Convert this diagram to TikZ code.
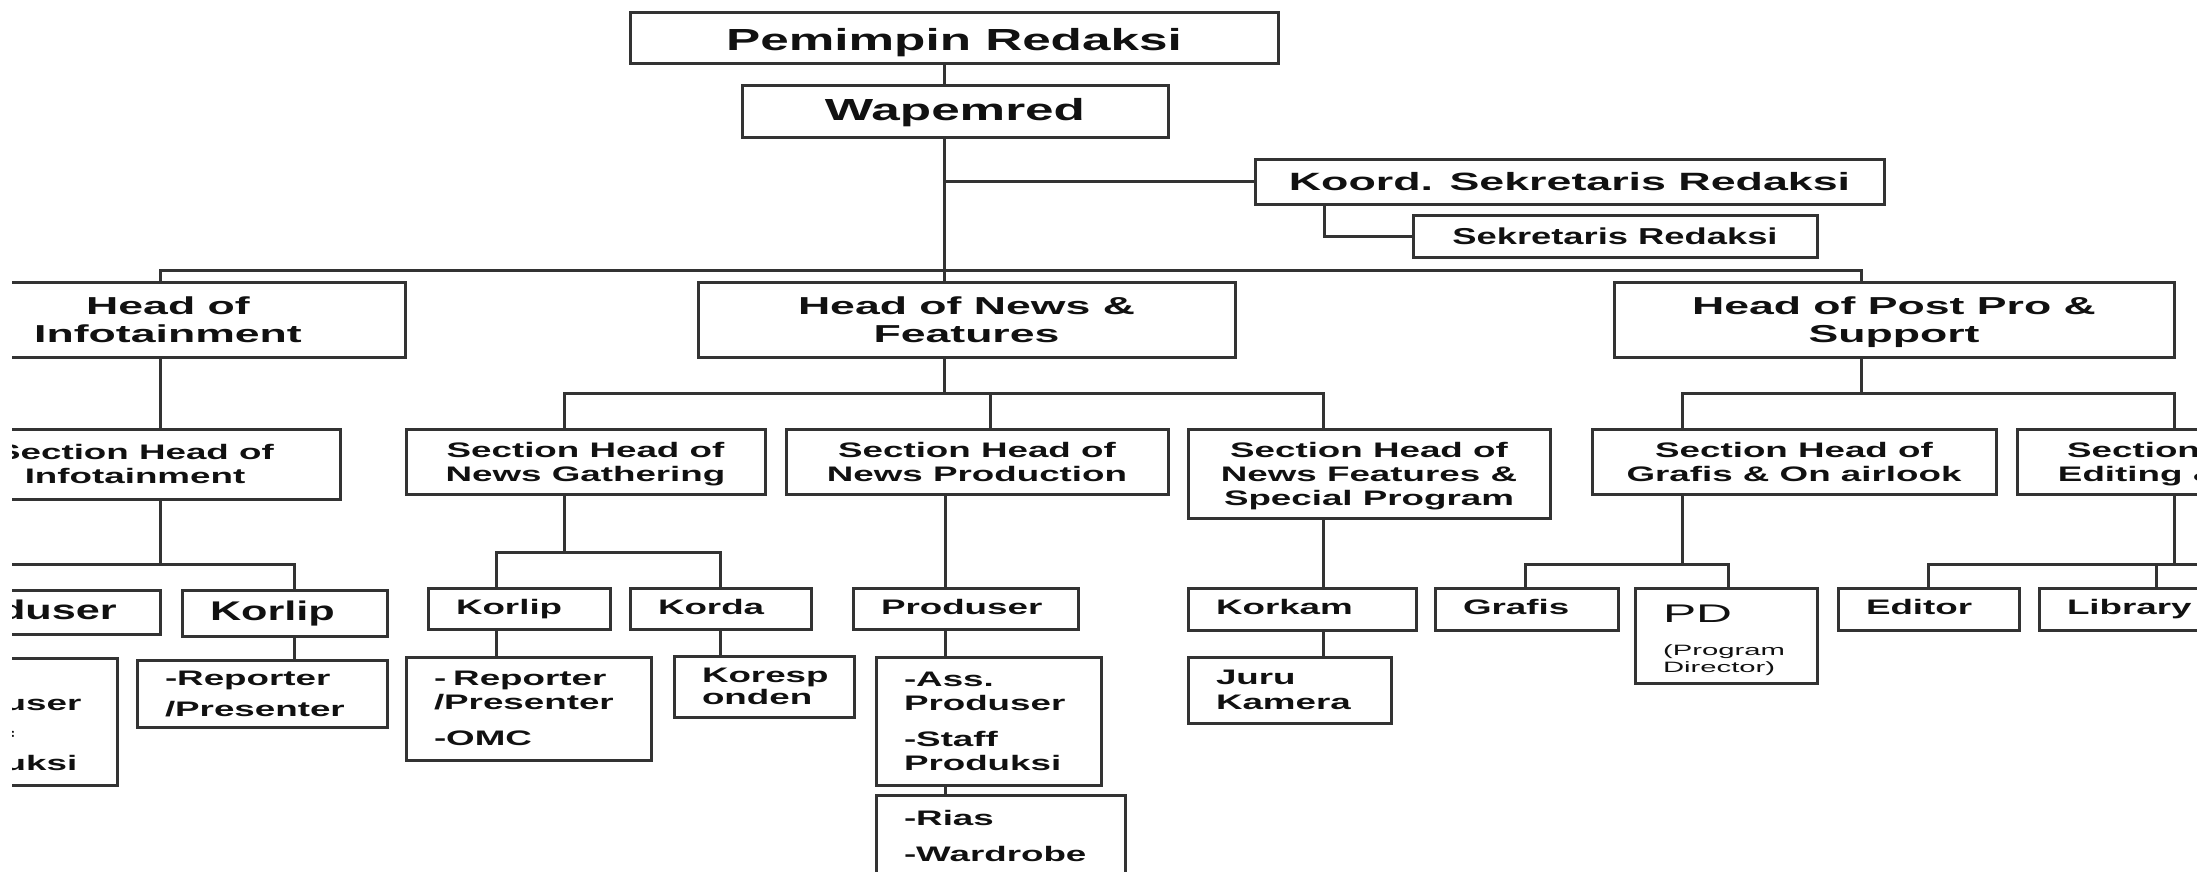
\documentclass[tikz,border=0pt]{standalone}
\usepackage{fontspec}
\newfontfamily\fTop{Liberation Sans}[UprightFont={* Bold},FakeStretch=1.68]
\newfontfamily\fHd{Liberation Sans}[UprightFont={* Bold},FakeStretch=1.82]
\newfontfamily\fReg{Liberation Sans}[FakeStretch=1.95]
\newfontfamily\fKo{Liberation Sans}[UprightFont={* Bold},FakeStretch=1.79]
\newfontfamily\fSek{Liberation Sans}[UprightFont={* Bold},FakeStretch=1.58]
\newfontfamily\fSec{Liberation Sans}[UprightFont={* Bold},FakeStretch=1.75]
\newfontfamily\fBig{Liberation Sans}[UprightFont={* Bold},FakeStretch=1.6]
\definecolor{lc}{HTML}{333333}
\definecolor{tc}{HTML}{111111}
\tikzset{
  boxx/.style={draw=lc, line width=3pt, inner sep=0pt, align=center, text=tc},
  itm/.style={boxx, inner xsep=28pt, inner ysep=0pt, align=left},
  one/.style={text height=15pt, text depth=4pt},
  onebig/.style={text height=19.5pt, text depth=5.5pt},
  ln/.style={draw=lc, line width=3pt},
  topf/.style={font=\fTop\fontsize{30.5}{34}\selectfont},
  hdf/.style={font=\fHd\fontsize{24.5}{28}\selectfont},
  secf/.style={font=\fSec\fontsize{21}{24}\selectfont},
  bigf/.style={font=\fBig\fontsize{27}{31}\selectfont},
}
% centred box: opts, name, x1, y1, x2, y2, text
\newcommand\BX[7][]{\node[boxx,#1,minimum width={((#5)-(#3))*1pt},minimum height={((#6)-(#4))*1pt}] (#2) at ({((#3)+(#5))/2},{((#4)+(#6))/2}) {#7};}
% left-aligned item box
\newcommand\IT[7][]{\node[itm,#1,text width={((#5)-(#3)-56)*1pt},minimum width={((#5)-(#3))*1pt},minimum height={((#6)-(#4))*1pt}] (#2) at ({((#3)+(#5))/2},{((#4)+(#6))/2}) {#7};}
\begin{document}
\begin{tikzpicture}[x=1pt,y=-1pt]
\useasboundingbox (0,0) rectangle (2197,871);
\clip (0,0) rectangle (2197,871);
\fill[white] (0,0) rectangle (2197,871);

% ---------- nodes ----------
\BX[topf,text height=25pt,text depth=0pt]{pem}{630}{12}{1278}{63}{Pemimpin Redaksi}
\BX[topf,text height=22pt,text depth=4pt]{wap}{742}{85}{1168}{137}{Wapemred}
\BX[font=\fKo\fontsize{25}{28}\selectfont]{koord}{1255}{159}{1884}{204}{Koord. Sekretaris Redaksi}
\BX[font=\fSek\fontsize{23}{26}\selectfont]{sek}{1413}{215}{1817}{257}{Sekretaris Redaksi}

\BX[hdf]{hinf}{-69}{282}{405}{357}{Head of\\Infotainment}
\BX[hdf]{hnf}{698}{282}{1235}{357}{Head of News \&\\Features}
\BX[hdf]{hpp}{1614}{282}{2174}{357}{Head of Post Pro \&\\Su\smash{pp}ort}

\BX[secf]{sinf}{-70}{429}{340}{499}{Section Head of\\Infotainment}
\BX[secf]{sng}{406}{429}{765}{494}{Section Head of\\News Gatherin\smash{g}}
\BX[secf]{snp}{786}{429}{1168}{494}{Section Head of\\News Production}
\BX[secf]{snf}{1188}{429}{1550}{518}{Section Head of\\News Features \&\\S\smash{p}ecial Pro\smash{g}ram}
\BX[secf]{sgr}{1592}{429}{1996}{494}{Section Head of\\Grafis \& On airlook}
\BX[secf]{sed}{2017}{429}{2395}{494}{Section Head of\\Editin\smash{g} \& Librar\smash{y}}

% infotainment column
\IT[bigf,onebig]{iprod}{-101}{590}{160}{634}{Produser}
\IT[bigf,onebig]{ikor}{182}{590}{387}{636}{Korlip}
\IT[secf]{ilist}{-108}{658}{117}{785}{-Ass.\\Produser\\[12pt]-Staff\\Produksi}
\IT[secf,inner xsep=26pt,font=\fSec\fontsize{21}{31}\selectfont]{irep}{137}{660}{387}{727}{-Reporter\\/Presenter}

% news gathering
\IT[secf,one]{nkor}{428}{588}{610}{629}{Korlip}
\IT[secf,one]{nkorda}{630}{588}{811}{629}{Korda}
\IT[secf]{nrep}{406}{657}{651}{760}{- Reporter\\/Presenter\\[12pt]-OMC}
\IT[secf,inner xsep=25pt,font=\fSec\fontsize{21}{22}\selectfont]{nkoresp}{674}{656}{854}{717}{Koresp\\onden}

% news production
\IT[secf,one]{nprod}{853}{588}{1078}{629}{Produser}
\IT[secf]{nass}{876}{657}{1101}{785}{-Ass.\\Produser\\[12pt]-Staff\\Produksi}
\IT[secf,font=\fSec\fontsize{21}{36}\selectfont]{nrias}{876}{795}{1125}{876}{-Rias\\-Wardrobe}

% news features
\IT[secf,one]{nkorkam}{1188}{588}{1416}{630}{Korkam}
\IT[secf,font=\fSec\fontsize{21}{25}\selectfont]{njuru}{1188}{657}{1391}{723}{Juru\\Kamera}

% post pro
\IT[secf,one]{grafis}{1435}{588}{1618}{630}{Grafis}
\IT[font=\fReg\fontsize{15}{17}\selectfont]{pd}{1635}{588}{1817}{683}{{\fontsize{25.5}{28}\selectfont\rule{0pt}{27pt}PD}\\[16pt](Program\\Director)}
\IT[secf,one]{editor}{1838}{588}{2019}{630}{Editor}
\IT[secf,one,inner xsep=27pt]{library}{2039}{588}{2220}{630}{Library}

% ---------- connector coordinates ----------
\coordinate (tx) at (944,0);
\coordinate (kx) at (1324,0);
\coordinate (ix) at (160,0);
\coordinate (px) at (1861,0);
\coordinate (b1) at (944,270);
\coordinate (b2) at (944,393);
\coordinate (gx) at (564,0);
\coordinate (npx) at (990,0);
\coordinate (nfx) at (1323,0);
\coordinate (b3) at (160,564);
\coordinate (ipx) at (-20,0);
\coordinate (ikx) at (294,0);
\coordinate (b4) at (564,552);
\coordinate (k1x) at (496,0);
\coordinate (k2x) at (720,0);
\coordinate (p2x) at (945,0);
\coordinate (b5) at (1861,393);
\coordinate (grx) at (1682,0);
\coordinate (edx) at (2174,0);
\coordinate (b6) at (1682,564);
\coordinate (gfx) at (1525,0);
\coordinate (pdx) at (1728,0);
\coordinate (b7) at (2174,564);
\coordinate (b7e) at (2260,564);
\coordinate (etx) at (1928,0);
\coordinate (lbx) at (2156,0);

% ---------- connectors ----------
\draw[ln] (pem.south -| tx) -- (wap.north -| tx);
\draw[ln] (wap.south -| tx) -- (hnf.north -| tx);
\draw[ln] (koord.west) -- (koord.west -| tx);
\draw[ln] (koord.south -| kx) |- (sek.west);
\draw[ln] (hinf.north -| ix) |- (b1) -| (hpp.north -| px);

\draw[ln] (hnf.south -| tx) -- (b2);
\draw[ln] (sng.north -| gx) |- (b2) -| (snf.north -| nfx);
\draw[ln] (snp.north -| npx) -- (npx |- b2);

\draw[ln] (hinf.south -| ix) -- (sinf.north -| ix);
\draw[ln] (sinf.south -| ix) -- (b3);
\draw[ln] (iprod.north -| ipx) |- (b3) -| (ikor.north -| ikx);
\draw[ln] (ikor.south -| ikx) -- (irep.north -| ikx);
\draw[ln] (iprod.south -| ipx) -- (ilist.north -| ipx);

\draw[ln] (sng.south -| gx) -- (b4);
\draw[ln] (nkor.north -| k1x) |- (b4) -| (nkorda.north -| k2x);
\draw[ln] (nkor.south -| k1x) -- (nrep.north -| k1x);
\draw[ln] (nkorda.south -| k2x) -- (nkoresp.north -| k2x);

\draw[ln] (snp.south -| p2x) -- (nprod.north -| p2x);
\draw[ln] (nprod.south -| p2x) -- (nass.north -| p2x);
\draw[ln] (nass.south -| p2x) -- (nrias.north -| p2x);

\draw[ln] (snf.south -| nfx) -- (nkorkam.north -| nfx);
\draw[ln] (nkorkam.south -| nfx) -- (njuru.north -| nfx);

\draw[ln] (hpp.south -| px) -- (b5);
\draw[ln] (sgr.north -| grx) |- (b5) -| (sed.north -| edx);
\draw[ln] (sgr.south -| grx) -- (b6);
\draw[ln] (grafis.north -| gfx) |- (b6) -| (pd.north -| pdx);
\draw[ln] (sed.south -| edx) -- (b7);
\draw[ln] (editor.north -| etx) |- (b7e);
\draw[ln] (library.north -| lbx) -- (lbx |- b7);

% blank strip at the left edge of the reference image
\fill[white] (0,0) rectangle (12,871);
\end{tikzpicture}
\end{document}
